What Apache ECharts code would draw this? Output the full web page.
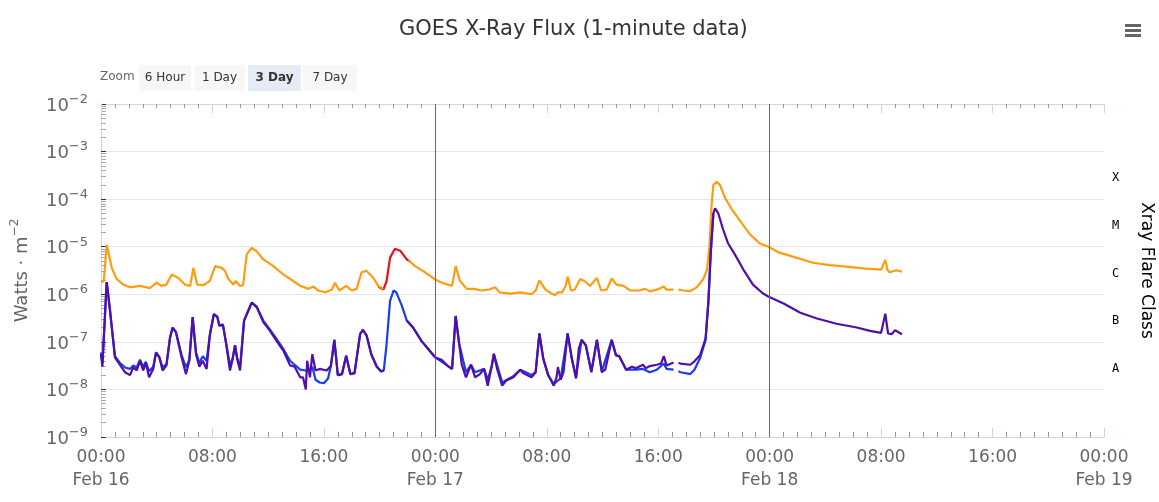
<!DOCTYPE html>
<html>
<head>
<meta charset="utf-8">
<script src="https://cdn.jsdelivr.net/npm/echarts@6/dist/echarts.min.js"></script>
<style>
  html, body { margin: 0; padding: 0; background: #fff; }
  #chart { width: 1159px; height: 502px; }
</style>
</head>
<body>
<div id="chart"></div>
<script>
  // hours after Feb 16 00:00 UTC, flux in W/m^2 ; null = data gap
  var longPrimary = [
    [0,1.8e-6],[0.2,1.9e-6],[0.41,1.1e-5],[0.77,3.6e-6],[1.12,2.1e-6],[1.6,1.6e-6],[2.08,1.4e-6],[2.8,1.5e-6],
    [3.5,1.35e-6],[4.0,1.75e-6],[4.35,1.5e-6],[4.7,1.6e-6],[5.07,2.6e-6],[5.55,2.2e-6],[6.03,1.6e-6],[6.4,1.5e-6],
    [6.63,3.6e-6],[6.9,1.6e-6],[7.35,1.55e-6],[7.8,1.9e-6],[8.2,3.9e-6],[8.66,3.6e-6],[8.9,3.1e-6],[9.14,2.1e-6],
    [9.5,1.6e-6],[9.67,1.9e-6],[9.98,1.5e-6],[10.2,1.55e-6],[10.46,6.9e-6],[10.82,9.5e-6],[11.18,8.0e-6],[11.65,5.4e-6],
    [12.37,3.9e-6],[13.1,2.6e-6],[13.8,1.9e-6],[14.3,1.5e-6],[14.9,1.3e-6],[15.25,1.45e-6],[15.6,1.2e-6],[16.1,1.1e-6],
    [16.56,1.25e-6],[16.8,1.75e-6],[17.1,1.2e-6],[17.6,1.5e-6],[18.0,1.2e-6],[18.35,1.3e-6],[18.7,2.9e-6],[19.07,3.1e-6],
    [19.55,2.2e-6],[19.9,1.5e-6],[20.27,1.3e-6],[20.45,null],
    [22.07,5.2e-6],[22.54,3.9e-6],[23.26,2.9e-6],[23.93,2.1e-6],[24.46,1.75e-6],[25.2,1.5e-6],[25.46,3.9e-6],[25.77,1.9e-6],
    [26.25,1.3e-6],[26.8,1.3e-6],[27.3,1.2e-6],[27.8,1.25e-6],[28.3,1.4e-6],[28.6,1.1e-6],[29.4,1.03e-6],[30.1,1.1e-6],
    [30.9,1.0e-6],[31.2,1.2e-6],[31.47,1.96e-6],[31.9,1.25e-6],[32.3,1.05e-6],[32.6,9.5e-7],[32.8,1.1e-6],[33.1,1.1e-6],
    [33.35,1.5e-6],[33.5,2.35e-6],[33.74,1.2e-6],[34.0,1.25e-6],[34.4,2.1e-6],[34.7,1.9e-6],[35.1,1.5e-6],[35.6,2.2e-6],
    [35.9,1.2e-6],[36.3,1.25e-6],[36.66,2.15e-6],[37.0,1.6e-6],[37.5,1.5e-6],[38.0,1.2e-6],[38.6,1.2e-6],[39.05,1.3e-6],
    [39.4,1.15e-6],[39.9,1.25e-6],[40.4,1.45e-6],[40.6,1.25e-6],[41.1,1.25e-6],[41.2,null],
    [41.45,1.25e-6],[41.8,1.2e-6],[42.3,1.17e-6],[42.76,1.4e-6],[43.24,2.1e-6],[43.5,3.3e-6],[43.67,9.4e-6],[43.84,8.4e-5],
    [43.96,2.0e-4],[44.2,2.3e-4],[44.43,2.0e-4],[44.8,1.05e-4],[45.3,6e-5],[45.9,3.4e-5],[46.6,1.8e-5],[47.3,1.17e-5],
    [47.9,1.0e-5],[48.7,7.5e-6],[49.9,5.9e-6],[51.1,4.6e-6],[52.3,4.1e-6],[53.5,3.8e-6],[54.7,3.5e-6],[56.0,3.3e-6],
    [56.3,5.3e-6],[56.45,3.3e-6],[56.6,2.9e-6],[57.1,3.2e-6],[57.5,3.0e-6]
  ];

  var longSecondary = [
    [19.9,1.45e-6],[20.27,1.25e-6],[20.5,1.9e-6],[20.75,5.9e-6],[21.1,9.1e-6],[21.5,8.1e-6],[21.95,5.4e-6],[22.2,4.8e-6]
  ];

  var shortPrimary = [
    [0,5.5e-8],[0.1,3.0e-8],[0.41,1.8e-6],[0.65,4.5e-7],[1.0,4.7e-8],[1.36,3.3e-8],[1.72,2.3e-8],[2.08,2.0e-8],
    [2.32,2.9e-8],[2.56,2.5e-8],[2.8,4.0e-8],[3.03,2.5e-8],[3.22,3.6e-8],[3.45,1.8e-8],[3.75,2.7e-8],[3.95,6e-8],
    [4.19,4.7e-8],[4.42,2.5e-8],[4.7,3.2e-8],[4.95,1.2e-7],[5.14,2.0e-7],[5.38,1.6e-7],[5.79,4.7e-8],[6.1,2.1e-8],
    [6.34,4e-8],[6.58,3.3e-7],[6.82,5.5e-8],[7.06,3.0e-8],[7.3,4e-8],[7.58,2.7e-8],[7.82,1.45e-7],[8.1,3.8e-7],
    [8.34,3.4e-7],[8.5,2.2e-7],[8.75,2.3e-7],[8.97,9.5e-8],[9.26,2.5e-8],[9.45,4.3e-8],[9.62,8.5e-8],[9.78,4.3e-8],
    [9.98,2.5e-8],[10.27,2.8e-7],[10.57,4.5e-7],[10.82,6.7e-7],[11.18,5.3e-7],[11.65,2.6e-7],[12.13,1.7e-7],[12.6,1.05e-7],
    [13.1,6.5e-8],[13.57,3.2e-8],[13.9,3.0e-8],[14.3,1.8e-8],[14.5,1.8e-8],[14.7,1.0e-8],[14.8,4e-8],[15.0,1.8e-8],
    [15.17,5.5e-8],[15.4,2.5e-8],[15.7,2.7e-8],[16.2,2.5e-8],[16.5,3.1e-8],[16.75,1.1e-7],[17.0,2.0e-8],[17.3,2.1e-8],
    [17.6,5.1e-8],[17.9,2.1e-8],[18.2,2.2e-8],[18.6,1.45e-7],[18.8,1.8e-7],[19.07,1.35e-7],[19.4,5.5e-8],[19.8,3.0e-8],
    [20.1,2.4e-8],[20.3,2.5e-8],[20.4,null],
    [21.95,2.8e-7],[22.4,2.0e-7],[23.0,1.05e-7],[23.5,7e-8],[24.0,4.7e-8],[24.45,4.2e-8],[24.9,3.1e-8],[25.2,2.7e-8],
    [25.46,3.5e-7],[25.7,9.5e-8],[25.9,3.3e-8],[26.2,1.8e-8],[26.56,3.3e-8],[26.85,1.8e-8],[27.2,2.1e-8],[27.5,2.7e-8],
    [27.76,1.2e-8],[28.05,3.1e-8],[28.2,5.6e-8],[28.45,2.6e-8],[28.8,1.2e-8],[29.1,1.55e-8],[29.6,1.8e-8],[30.1,2.6e-8],
    [30.3,2.2e-8],[30.9,1.8e-8],[31.2,2.3e-8],[31.47,1.5e-7],[31.75,4.4e-8],[32.1,2.0e-8],[32.5,1.2e-8],[32.7,1.8e-8],
    [32.8,2.95e-8],[33.0,1.6e-8],[33.2,2.3e-8],[33.5,1.5e-7],[33.8,4.4e-8],[34.1,1.7e-8],[34.3,7.2e-8],[34.5,1.1e-7],
    [34.8,8.5e-8],[35.2,2.3e-8],[35.6,1.1e-7],[35.95,2.3e-8],[36.2,2.6e-8],[36.66,1.1e-7],[36.97,5.2e-8],[37.2,5e-8],
    [37.7,2.6e-8],[38.1,3e-8],[38.4,2.8e-8],[38.9,3.3e-8],[39.1,2.8e-8],[39.4,3.1e-8],[39.9,3.3e-8],[40.2,3.5e-8],
    [40.4,5e-8],[40.6,3.2e-8],[41.1,3.7e-8],[41.2,null],
    [41.45,3.6e-8],[41.6,3.5e-8],[42.3,3.3e-8],[42.6,3.9e-8],[43.0,5.2e-8],[43.4,1.17e-7],[43.6,6.9e-7],[43.77,7.5e-6],
    [43.96,5.1e-5],[44.08,6.4e-5],[44.3,5.1e-5],[44.66,2.3e-5],[45.0,1.2e-5],[45.5,6.9e-6],[46.1,3.35e-6],[46.8,1.6e-6],
    [47.5,1.05e-6],[47.9,9e-7],[49.0,6.4e-7],[50.2,4.1e-7],[51.4,3.1e-7],[52.8,2.4e-7],[54.25,2.0e-7],[55.2,1.7e-7],
    [56.0,1.55e-7],[56.3,3.9e-7],[56.5,1.5e-7],[56.75,1.45e-7],[57.0,1.75e-7],[57.5,1.45e-7]
  ];

  var shortSecondary = [
    [0,6e-8],[0.1,3.5e-8],[0.41,1.8e-6],[0.65,4.5e-7],[1.0,5e-8],[1.36,3.6e-8],[1.72,2.9e-8],[2.08,2.7e-8],
    [2.32,3.2e-8],[2.56,2.9e-8],[2.8,4.2e-8],[3.03,3.0e-8],[3.22,3.8e-8],[3.45,2.4e-8],[3.75,3.0e-8],[3.95,6e-8],
    [4.19,4.7e-8],[4.42,2.9e-8],[4.7,3.4e-8],[4.95,1.2e-7],[5.14,2.0e-7],[5.38,1.6e-7],[5.79,5.2e-8],[6.1,2.9e-8],
    [6.34,4.2e-8],[6.58,3.3e-7],[6.82,6e-8],[7.06,3.6e-8],[7.3,5e-8],[7.58,4.0e-8],[7.82,1.45e-7],[8.1,3.8e-7],
    [8.34,3.4e-7],[8.5,2.2e-7],[8.75,2.3e-7],[8.97,1.0e-7],[9.26,3.2e-8],[9.45,4.5e-8],[9.62,8.5e-8],[9.78,4.5e-8],
    [9.98,2.9e-8],[10.27,2.8e-7],[10.57,4.5e-7],[10.82,6.7e-7],[11.18,5.5e-7],[11.65,2.8e-7],[12.13,1.8e-7],[12.6,1.15e-7],
    [13.1,7e-8],[13.57,4.0e-8],[13.9,3.3e-8],[14.3,2.6e-8],[14.7,2.5e-8],[15.0,2.5e-8],[15.17,3.0e-8],[15.4,1.6e-8],
    [15.7,1.4e-8],[16.0,1.35e-8],[16.3,1.7e-8],[16.5,3.1e-8],[16.75,1.1e-7],[17.0,2.0e-8],[17.3,2.1e-8],[17.6,5.1e-8],
    [17.9,2.1e-8],[18.2,2.2e-8],[18.6,1.45e-7],[18.8,1.8e-7],[19.07,1.35e-7],[19.4,5.5e-8],[19.8,3.0e-8],[20.1,2.4e-8],
    [20.3,2.5e-8],[20.5,9e-8],[20.75,7.3e-7],[21.0,1.2e-6],[21.2,1.1e-6],[21.6,5.7e-7],[21.95,2.8e-7],[22.4,2.0e-7],
    [23.0,1.05e-7],[24.0,4.7e-8],[25.2,2.7e-8],[25.46,3.5e-7],[25.7,9.5e-8],[26.2,2.3e-8],[26.56,3.3e-8],[26.85,2.3e-8],
    [27.5,2.7e-8],[27.76,1.6e-8],[28.05,3.1e-8],[28.2,5.6e-8],[28.8,1.4e-8],[29.6,1.9e-8],[30.1,2.6e-8],[30.9,2.0e-8],
    [31.2,2.3e-8],[31.47,1.5e-7],[31.75,4.4e-8],[32.1,2.0e-8],[32.5,1.3e-8],[33.0,1.7e-8],[33.5,1.5e-7],[33.8,4.4e-8],
    [34.1,1.8e-8],[34.5,1.1e-7],[34.8,8.5e-8],[35.2,2.4e-8],[35.6,1.1e-7],[35.95,2.4e-8],[36.66,1.1e-7],[36.97,5.2e-8],
    [37.2,5e-8],[37.7,2.6e-8],[38.4,2.6e-8],[38.9,2.7e-8],[39.4,2.3e-8],[39.9,2.6e-8],[40.4,3.5e-8],[40.6,2.7e-8],
    [41.1,2.6e-8],[41.2,null],
    [41.45,2.4e-8],[41.6,2.3e-8],[42.3,2.1e-8],[42.6,2.6e-8],[43.0,4.5e-8],[43.4,1.1e-7],[43.6,6.9e-7],[43.77,7.5e-6],
    [43.96,5.1e-5]
  ];

  var dayLabels = ['Feb 16', 'Feb 17', 'Feb 18', 'Feb 19'];
  var flareClasses = { 1.5: 'A', 2.5: 'B', 3.5: 'C', 4.5: 'M', 5.5: 'X' };
  var zoomButtons = ['6 Hour', '1 Day', '3 Day', '7 Day'];
  var dayMarks = [24, 48];

  var font = 'DejaVu Sans';

  function lineSeries(name, data, color) {
    return {
      name: name,
      type: 'line',
      data: data,
      showSymbol: false,
      symbol: 'none',
      connectNulls: false,
      lineStyle: { color: color, width: 2.2 },
      itemStyle: { color: color },
      silent: true
    };
  }

  // zoom buttons (decoration)
  var btnX = [139, 194, 248, 303];
  var btnW = [52, 51, 53, 54];
  var graphics = [{
    type: 'text', left: 100, top: 71,
    style: { text: 'Zoom', fill: '#666', font: '12px ' + font }
  }];
  zoomButtons.forEach(function (b, i) {
    var sel = b === '3 Day';
    graphics.push({
      type: 'group', left: btnX[i], top: 65,
      children: [
        { type: 'rect', shape: { x: 0, y: 0, width: btnW[i], height: 26 },
          style: { fill: sel ? '#e6ebf5' : '#f7f7f7' } },
        { type: 'text', x: btnW[i] / 2, y: 13,
          style: { text: b, fill: '#333', font: (sel ? 'bold ' : '') + '12px ' + font,
                   align: 'center', verticalAlign: 'middle' } }
      ]
    });
  });
  // context menu icon
  [25, 30, 35].forEach(function (y) {
    graphics.push({ type: 'rect', left: 1125, top: y - 1,
      shape: { width: 16, height: 3 }, style: { fill: '#666' } });
  });

  var chart = echarts.init(document.getElementById('chart'), null, { renderer: 'canvas' });
  chart.setOption({
    animation: false,
    backgroundColor: '#fff',
    textStyle: { fontFamily: font },
    title: {
      text: 'GOES X-Ray Flux (1-minute data)',
      left: 394, top: 14, padding: 5,
      textStyle: { fontSize: 21, fontWeight: 'normal', color: '#333', fontFamily: font }
    },
    graphic: graphics,
    grid: { left: 101, right: 55, top: 104, bottom: 65, containLabel: false, outerBoundsMode: 'none' },
    xAxis: [{
      type: 'value', min: 0, max: 72, interval: 8,
      axisLine: { lineStyle: { color: '#ccd6eb' } },
      axisTick: { inside: true, length: 9, lineStyle: { color: '#ccd6eb' } },
      minorTick: { show: true, splitNumber: 8, length: 5, lineStyle: { color: '#999' } },
      splitLine: { show: false },
      axisLabel: {
        margin: 9, color: '#666', fontSize: 17, lineHeight: 23, fontFamily: font,
        formatter: function (v) {
          var h = v % 24;
          var t = (h < 10 ? '0' : '') + h + ':00';
          return h === 0 ? t + '\n' + dayLabels[v / 24] : t;
        }
      }
    }, {
      type: 'value', min: 0, max: 72, interval: 8, position: 'top',
      axisLine: { lineStyle: { color: '#ccd6eb' } },
      axisTick: { inside: true, length: 9, lineStyle: { color: '#ccd6eb' } },
      minorTick: { show: true, splitNumber: 8, length: 4, lineStyle: { color: '#999' } },
      splitLine: { show: false },
      axisLabel: { show: false }
    }],
    yAxis: [{
      type: 'log', logBase: 10, min: 1e-9, max: 1e-2, splitNumber: 7,
      name: '{a|Watts · m}{b|−2}', nameLocation: 'middle', nameGap: 70,
      nameTextStyle: {
        color: '#666', fontSize: 18, fontFamily: font,
        rich: {
          a: { fontSize: 18, lineHeight: 22, color: '#666', fontFamily: font, verticalAlign: 'bottom' },
          b: { fontSize: 12, lineHeight: 12, color: '#666', fontFamily: font, verticalAlign: 'top' }
        }
      },
      axisLine: { show: true, lineStyle: { color: '#aaa' } },
      axisTick: { show: true, inside: true, length: 5, lineStyle: { color: '#333' } },
      minorTick: { show: true, splitNumber: 9, length: 5, lineStyle: { color: '#aaa' } },
      splitLine: { show: true, lineStyle: { color: '#e6e6e6' } },
      axisLabel: {
        margin: 13, color: '#666',
        formatter: function (v) {
          var e = Math.round(Math.log10(v));
          return '{a|10}{b|−' + Math.abs(e) + '}';
        },
        rich: {
          a: { fontSize: 18, lineHeight: 22, color: '#666', fontFamily: font, verticalAlign: 'bottom' },
          b: { fontSize: 13, lineHeight: 13, color: '#666', fontFamily: font, verticalAlign: 'top' }
        }
      }
    }, {
      type: 'value', min: 0, max: 7, interval: 0.5, position: 'right',
      name: 'Xray Flare Class', nameLocation: 'middle', nameGap: 34, nameRotate: -90,
      nameTextStyle: { color: '#000', fontSize: 17, fontFamily: font },
      axisLine: { show: true, lineStyle: { color: '#ccd6eb' } },
      axisTick: { show: false },
      splitLine: { show: false },
      axisLabel: {
        margin: 8,
        formatter: function (v) { return flareClasses[v] ? '{c|' + flareClasses[v] + '}' : ''; },
        rich: {
          c: { color: '#000', fontSize: 12, lineHeight: 14, fontFamily: 'DejaVu Sans Mono', padding: [6, 0, 0, 0] }
        }
      }
    }],
    series: [
      lineSeries('GOES-17 Long', longSecondary, '#e8101e'),
      Object.assign(lineSeries('GOES-16 Long', longPrimary, '#ff9c0f'), {
        markLine: {
          silent: true, symbol: 'none', label: { show: false },
          lineStyle: { color: '#666', width: 1, type: 'solid' },
          data: dayMarks.map(function (d) { return { xAxis: d }; })
        }
      }),
      lineSeries('GOES-17 Short', shortSecondary, '#1a3cf0'),
      lineSeries('GOES-16 Short', shortPrimary, '#4f0fa8')
    ]
  });
</script>
</body>
</html>
